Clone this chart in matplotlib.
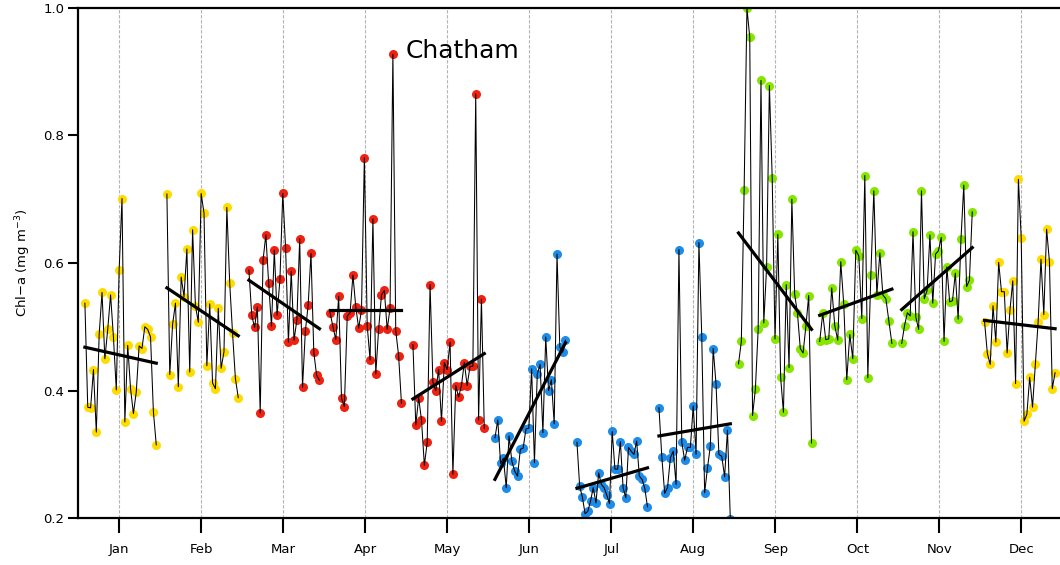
import numpy as np
import matplotlib.pyplot as plt

months = ['Jan', 'Feb', 'Mar', 'Apr', 'May', 'Jun', 'Jul', 'Aug', 'Sep', 'Oct', 'Nov', 'Dec']

# daily Chl-a values, one list per month
jan = [0.537, 0.374, 0.373, 0.433, 0.335, 0.488, 0.554, 0.45, 0.496, 0.55, 0.484, 0.401, 0.589,
       0.701, 0.351, 0.471, 0.403, 0.364, 0.398, 0.47, 0.466, 0.5, 0.496, 0.484, 0.367, 0.315]
feb = [0.708, 0.425, 0.504, 0.537, 0.406, 0.578, 0.547, 0.622, 0.429, 0.652, 0.533, 0.507, 0.709,
       0.678, 0.439, 0.536, 0.412, 0.403, 0.529, 0.435, 0.461, 0.687, 0.569, 0.49, 0.419, 0.389]
mar = [0.589, 0.518, 0.499, 0.531, 0.365, 0.604, 0.644, 0.568, 0.501, 0.62, 0.518, 0.575, 0.709,
       0.624, 0.476, 0.587, 0.479, 0.511, 0.638, 0.405, 0.493, 0.534, 0.615, 0.46, 0.424, 0.416]
apr = [0.522, 0.5, 0.48, 0.548, 0.388, 0.375, 0.517, 0.522, 0.581, 0.531, 0.498, 0.526, 0.765,
       0.502, 0.448, 0.669, 0.426, 0.496, 0.55, 0.557, 0.496, 0.529, 0.927, 0.494, 0.455, 0.38]
may = [0.472, 0.346, 0.389, 0.354, 0.283, 0.319, 0.566, 0.413, 0.4, 0.433, 0.352, 0.444, 0.433,
       0.476, 0.269, 0.408, 0.39, 0.408, 0.444, 0.408, 0.438, 0.438, 0.865, 0.354, 0.543, 0.341]
jun = [0.326, 0.354, 0.286, 0.294, 0.248, 0.329, 0.289, 0.274, 0.266, 0.308, 0.31, 0.34, 0.341,
       0.434, 0.287, 0.426, 0.441, 0.334, 0.484, 0.4, 0.417, 0.348, 0.614, 0.468, 0.46, 0.479]
jul = [0.319, 0.25, 0.233, 0.207, 0.211, 0.227, 0.248, 0.224, 0.271, 0.253, 0.248, 0.236, 0.223,
       0.336, 0.277, 0.277, 0.32, 0.248, 0.232, 0.311, 0.305, 0.3, 0.321, 0.266, 0.261, 0.247, 0.218]
aug = [0.373, 0.296, 0.239, 0.248, 0.295, 0.305, 0.253, 0.621, 0.319, 0.291, 0.311, 0.311, 0.376,
       0.3, 0.632, 0.484, 0.24, 0.279, 0.313, 0.466, 0.41, 0.3, 0.297, 0.265, 0.338, 0.199]
sep = [0.442, 0.477, 0.715, 0.999, 0.954, 0.361, 0.402, 0.496, 0.886, 0.506, 0.593, 0.878, 0.733,
       0.481, 0.645, 0.421, 0.366, 0.566, 0.436, 0.7, 0.551, 0.521, 0.466, 0.459, 0.501, 0.549, 0.318]
oct_ = [0.477, 0.521, 0.48, 0.481, 0.561, 0.502, 0.479, 0.602, 0.535, 0.417, 0.488, 0.45, 0.62,
        0.611, 0.513, 0.737, 0.42, 0.581, 0.713, 0.55, 0.616, 0.55, 0.544, 0.509, 0.474]
nov = [0.474, 0.502, 0.522, 0.517, 0.649, 0.515, 0.496, 0.713, 0.544, 0.557, 0.644, 0.537, 0.614,
       0.619, 0.64, 0.477, 0.594, 0.539, 0.541, 0.584, 0.512, 0.637, 0.722, 0.563, 0.573, 0.68]
dec = [0.508, 0.458, 0.441, 0.533, 0.476, 0.601, 0.555, 0.555, 0.459, 0.526, 0.572, 0.411, 0.731,
       0.639, 0.352, 0.363, 0.421, 0.374, 0.441, 0.508, 0.606, 0.519, 0.653, 0.602, 0.403, 0.428]
chl = [jan, feb, mar, apr, may, jun, jul, aug, sep, oct_, nov, dec]

# where each month's run of days starts and ends on the month axis
x_first = [0.08, 1.08, 2.08, 3.07, 4.08, 5.08, 6.08, 7.08, 8.05, 9.04, 10.04, 11.05]
x_last = [0.95, 1.95, 2.94, 3.94, 4.95, 5.94, 6.94, 7.95, 8.94, 9.92, 10.90, 11.91]

# monthly linear trend, value at start and end of the month
trend_first = [0.468, 0.561, 0.573, 0.526, 0.387, 0.261, 0.247, 0.329, 0.647, 0.518, 0.527, 0.51]
trend_last = [0.443, 0.486, 0.497, 0.526, 0.458, 0.475, 0.279, 0.348, 0.496, 0.559, 0.624, 0.497]

yellow = '#FFDC00'
red = '#EE2211'
blue = '#1E8CE6'
green = '#86E600'
dot_colors = [yellow, yellow, red, red, red, blue, blue, blue, green, green, green, yellow]

fig = plt.figure(figsize=(10.6, 5.65), dpi=100)
ax = fig.add_axes([0.0739, 0.0827, 0.9261, 0.9037])

for i in range(12):
    x = np.linspace(x_first[i], x_last[i], len(chl[i]))
    ax.plot(x, chl[i], 'o', color=dot_colors[i], ms=6.5, mew=0, zorder=2)
    ax.plot(x, chl[i], '-', color='black', lw=0.75, zorder=3)
    ax.plot([x_first[i], x_last[i]], [trend_first[i], trend_last[i]], color='black', lw=2.3, zorder=4)

tick_pos = np.arange(12) + 0.5
for t in tick_pos:
    ax.axvline(t, color='#b4b4b4', lw=0.8, ls=(0, (3, 1.5)), zorder=1)

ax.set_xlim(0, 11.97)
ax.set_ylim(0.2, 1.0)
ax.set_xticks(tick_pos)
ax.set_xticklabels(months)
ax.set_yticks([0.2, 0.4, 0.6, 0.8, 1.0])
ax.set_yticklabels(['0.2', '0.4', '0.6', '0.8', '1.0'])

ax.spines['right'].set_visible(False)
for s in ['left', 'bottom', 'top']:
    ax.spines[s].set_linewidth(1.6)
ax.tick_params(axis='y', direction='out', length=7, width=1.5, labelsize=9.5, pad=3)
ax.tick_params(axis='x', direction='out', length=11, width=1.5, labelsize=9.5, pad=7)

ax.set_ylabel(r'Chl$-$a (mg m$^{-3}$)', fontsize=9.5)
ax.yaxis.set_label_coords(-0.046, 0.5)

ax.text(0.333, 0.915, 'Chatham', transform=ax.transAxes, fontsize=18, va='center')

fig.savefig('out.png', dpi=100)
